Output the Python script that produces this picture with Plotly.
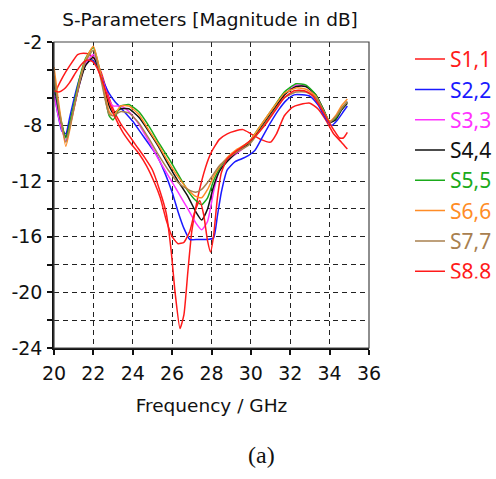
import plotly.graph_objects as go

# ---- data ----
freq_s11 = [20.0, 20.2, 20.45, 20.8, 21.2, 21.5, 21.8, 22.1, 22.4, 22.7, 23.0, 23.4, 23.8, 24.2, 24.6, 25.0,
            25.4, 25.7, 25.95, 26.15, 26.4, 26.6, 26.8, 27.0, 27.3, 27.7, 28.0, 28.4, 28.8, 29.2, 29.6, 30.0,
            30.5, 31.0, 31.3, 31.7, 32.1, 32.5, 33.0, 33.4, 33.8, 34.2, 34.6, 34.9]
s11 = [-5.9, -5.2, -4.5, -3.7, -2.9, -2.8, -2.9, -3.3, -4.2, -5.6, -6.8, -7.9, -8.7, -9.5, -10.3, -11.2,
       -12.8, -14.3, -17.0, -20.0, -22.6, -21.6, -18.5, -15.6, -13.2, -11.0, -9.9, -9.0, -8.6, -8.4, -8.3, -8.6,
       -9.0, -9.2, -8.6, -7.3, -6.7, -6.5, -6.4, -6.8, -7.6, -8.6, -9.2, -9.7]

freq_s22 = [20.0, 20.2, 20.4, 20.6, 20.8, 21.1, 21.4, 21.7, 21.95, 22.2, 22.5, 22.8, 23.1, 23.5, 24.0, 24.4,
            24.8, 25.2, 25.6, 26.0, 26.3, 26.6, 26.9, 27.3, 27.7, 28.1, 28.3, 28.5, 28.8, 29.2, 29.7, 30.2,
            30.6, 31.0, 31.4, 31.8, 32.2, 32.6, 33.0, 33.4, 33.8, 34.1, 34.4, 34.7, 34.9]
s22 = [-5.6, -7.2, -8.4, -8.6, -7.4, -5.6, -4.2, -3.4, -3.3, -3.8, -4.8, -5.7, -6.3, -6.9, -7.7, -8.5,
       -9.3, -10.1, -11.3, -12.8, -14.2, -15.4, -16.2, -16.2, -16.2, -16.1, -14.5, -12.8, -11.2, -10.6, -10.3, -9.8,
       -8.8, -7.8, -6.9, -6.2, -5.8, -5.8, -5.9, -6.5, -7.5, -8.0, -7.6, -7.0, -6.6]

freq_c = [20.0, 20.3, 20.6, 20.9, 21.3, 21.6, 22.0, 22.4, 22.8, 23.0, 23.4, 23.8, 24.3, 24.8, 25.3, 25.8,
          26.3, 26.8, 27.2, 27.5, 27.8, 28.1, 28.4, 28.8, 29.3, 29.9, 30.5, 31.1, 31.7, 32.3, 32.8, 33.3,
          33.7, 34.0, 34.3, 34.6, 34.9]
s33 = [-5.8, -7.8, -9.1, -7.5, -5.0, -3.6, -2.9, -4.4, -6.2, -6.6, -6.6, -7.0, -7.9, -9.1, -10.4, -11.6,
       -12.8, -14.0, -15.0, -15.5, -14.9, -12.8, -11.2, -10.5, -10.0, -9.3, -8.2, -7.0, -5.8, -5.1, -5.2, -5.8,
       -6.9, -7.8, -7.5, -6.8, -6.3]
s44 = [-5.0, -7.4, -8.8, -7.3, -5.0, -3.7, -3.1, -4.5, -6.6, -7.1, -6.8, -6.8, -7.4, -8.4, -9.5, -10.8,
       -12.0, -13.1, -14.2, -14.8, -14.0, -12.4, -11.3, -10.6, -9.9, -9.3, -8.2, -7.0, -5.8, -5.2, -5.2, -5.8,
       -6.9, -7.8, -7.6, -6.9, -6.4]
s55 = [-4.6, -7.2, -8.9, -7.2, -4.6, -3.2, -2.4, -4.5, -7.3, -7.6, -6.6, -6.5, -7.0, -8.0, -9.2, -10.3,
       -11.5, -12.7, -13.4, -13.7, -13.2, -12.0, -11.1, -10.4, -9.8, -9.2, -8.0, -6.8, -5.6, -5.0, -5.1, -5.8,
       -6.9, -7.7, -7.5, -6.8, -6.3]
s66 = [-3.8, -7.0, -9.5, -7.6, -4.8, -3.3, -2.3, -4.5, -7.0, -7.3, -6.6, -6.6, -7.2, -8.3, -9.4, -10.6,
       -11.7, -12.6, -13.1, -13.2, -12.6, -11.7, -11.0, -10.3, -9.7, -9.2, -8.0, -6.8, -5.7, -5.3, -5.4, -5.9,
       -7.0, -7.7, -7.3, -6.6, -6.1]
s77 = [-4.4, -7.3, -9.2, -7.5, -4.9, -3.4, -2.6, -4.8, -7.2, -7.3, -7.0, -7.1, -7.8, -8.9, -10.1, -11.2,
       -12.1, -12.6, -12.8, -12.6, -12.1, -11.5, -10.9, -10.4, -9.9, -9.4, -8.3, -7.1, -6.0, -5.6, -5.6, -6.0,
       -7.0, -7.8, -7.4, -6.8, -6.3]

freq_s88 = [20.0, 20.25, 20.5, 20.8, 21.1, 21.4, 21.7, 21.95, 22.2, 22.5, 22.8, 23.1, 23.5, 23.9, 24.3, 24.7,
            25.1, 25.4, 25.7, 26.0, 26.3, 26.6, 26.9, 27.15, 27.4, 27.6, 27.8, 27.95, 28.1, 28.3, 28.5, 28.8,
            29.2, 29.7, 30.2, 30.7, 31.2, 31.7, 32.2, 32.7, 33.1, 33.5, 33.9, 34.2, 34.5, 34.7, 34.9]
s88 = [-5.5, -5.6, -5.4, -4.9, -4.2, -3.6, -3.3, -3.4, -3.9, -5.0, -6.3, -7.4, -8.5, -9.3, -10.0, -10.9,
       -12.1, -13.2, -14.8, -16.0, -16.5, -16.4, -15.6, -14.2, -13.4, -14.4, -16.3, -17.1, -16.0, -13.2, -11.4, -10.4,
       -9.9, -9.4, -8.8, -8.0, -7.0, -6.0, -5.5, -5.5, -5.8, -6.6, -7.6, -8.3, -8.9, -8.9, -8.5]

names = ["S1,1", "S2,2", "S3,3", "S4,4", "S5,5", "S6,6", "S7,7", "S8,8"]
colors = ["#ff1a1a", "#1a1aff", "#ff33ff", "#111111", "#1aaa1a", "#ff8c26", "#a8804f", "#ff1a1a"]
xs = [freq_s11, freq_s22, freq_c, freq_c, freq_c, freq_c, freq_c, freq_s88]
ys = [s11, s22, s33, s44, s55, s66, s77, s88]

y_grid = list(range(-24, -1, 2))
y_labels = {-2: "-2", -8: "-8", -12: "-12", -16: "-16", -20: "-20", -24: "-24"}

FONT = "DejaVu Sans"
W, H = 496, 479
L, R, T, B = 54, 369, 42, 348  # plot area in pixels
PW, PH = R - L, B - T

fig = go.Figure()
for n, c, x, y in zip(names, colors, xs, ys):
    fig.add_trace(go.Scatter(
        x=x, y=y, mode="lines",
        name=f"<span style='color:{c}'>{n}</span>",
        line=dict(color=c, width=1.5, shape="spline", smoothing=0.5),
    ))

fig.update_layout(
    width=W, height=H,
    margin=dict(l=L, r=W - R, t=T, b=H - B, autoexpand=False),
    paper_bgcolor="white", plot_bgcolor="white",
    font=dict(family=FONT, size=19, color="#111"),
    title=dict(text="S-Parameters [Magnitude in dB]", x=210 / W, xanchor="center",
               y=1 - 20 / H, yanchor="middle", font=dict(family=FONT, size=18.5, color="#111")),
    showlegend=True,
    legend=dict(x=(410 - L) / PW, xanchor="left", y=1.01, yanchor="top", bgcolor="rgba(0,0,0,0)",
                font=dict(family="Noto Sans", size=21), tracegroupgap=0, itemwidth=30),
    annotations=[dict(text="(a)", x=(261 - L) / PW, y=(B - 455) / PH, xref="paper", yref="paper",
                      yanchor="middle", xanchor="center",
                      showarrow=False, font=dict(family="Liberation Serif", size=24, color="#111"))],
)

fig.update_xaxes(
    range=[20, 36], tickvals=list(range(20, 37, 2)), automargin=False,
    showgrid=True, gridcolor="#222", griddash="5px,4px", gridwidth=1.4,
    showline=True, linecolor="#111", linewidth=1.5,
    ticks="outside", ticklen=5, tickcolor="#111", tickwidth=1.5,
    tickfont=dict(family=FONT, size=19), ticklabelstandoff=2,
    title=dict(text="Frequency / GHz", font=dict(family=FONT, size=18.5), standoff=17),
    zeroline=False,
)
fig.update_yaxes(
    range=[-24, -2], tickvals=y_grid, ticktext=[y_labels.get(v, "") for v in y_grid], automargin=False,
    showgrid=True, gridcolor="#222", griddash="5px,4px", gridwidth=1.4,
    showline=True, linecolor="#111", linewidth=1.5,
    ticks="outside", ticklen=5, tickcolor="#111", tickwidth=1.5,
    tickfont=dict(family=FONT, size=19), ticklabelstandoff=1,
    zeroline=False,
)
# top/right frame
fig.add_shape(type="rect", xref="paper", yref="paper", x0=0, y0=0, x1=1, y1=1,
              line=dict(color="#444", width=1.2), layer="above")

fig.write_html("out.html", config={"displayModeBar": False, "displaylogo": False},
               post_script="document.body.style.margin='0';")
